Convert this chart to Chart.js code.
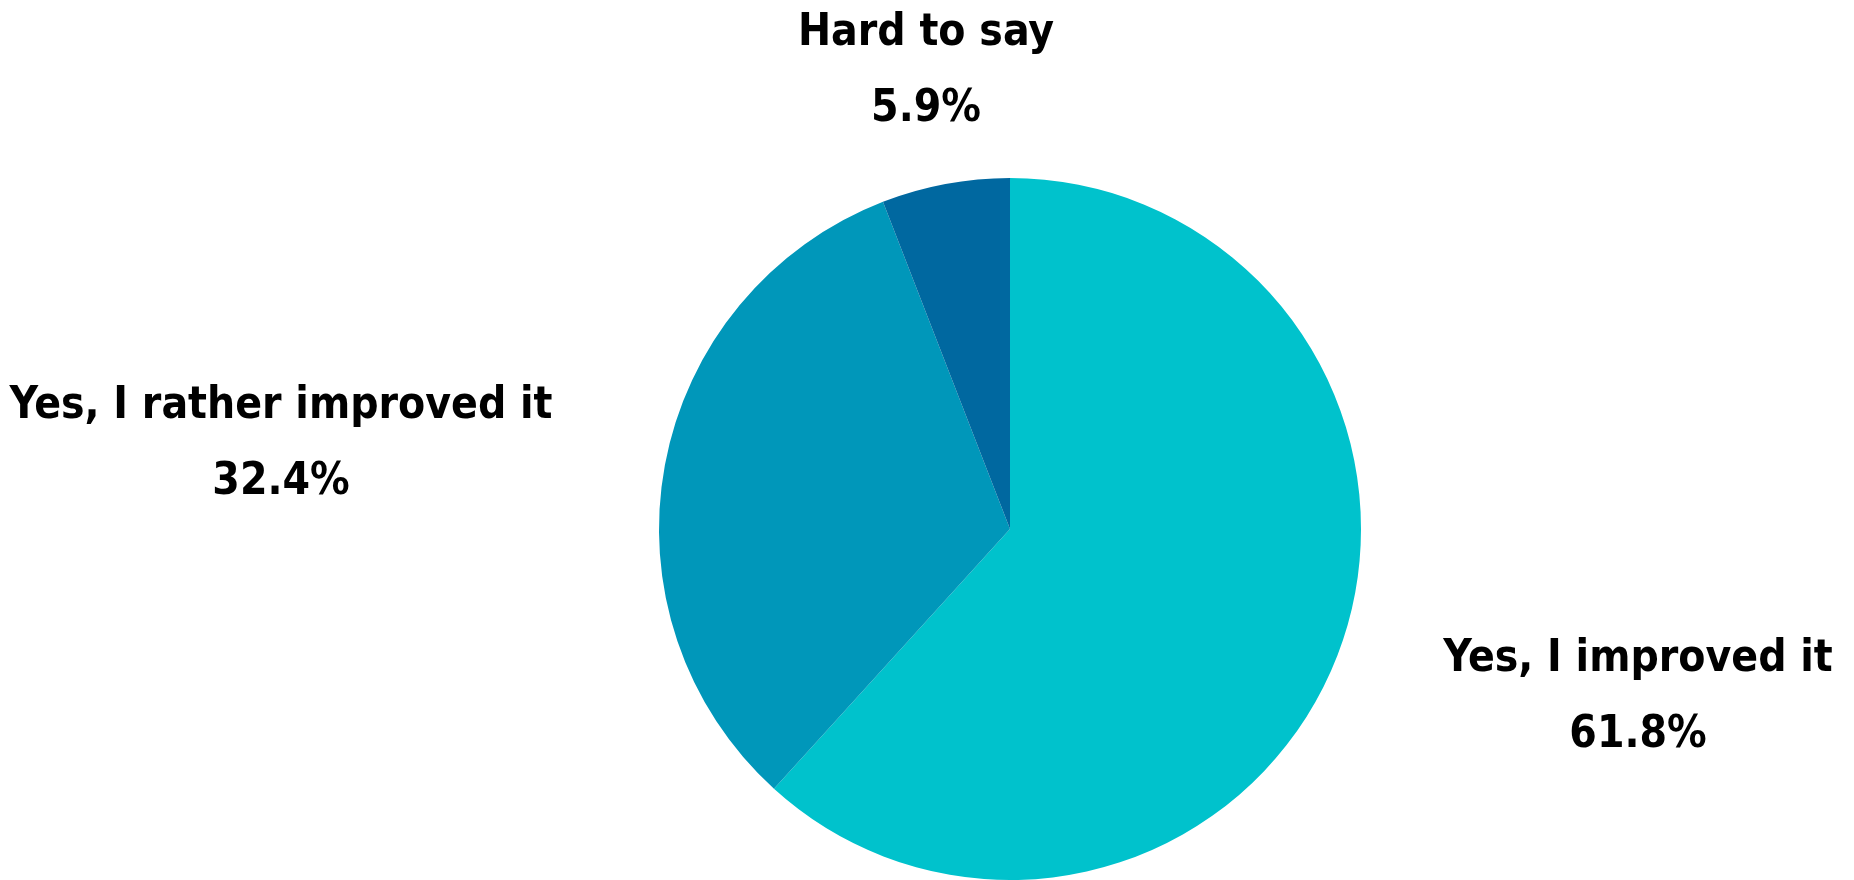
<!DOCTYPE html>
<html>
<head>
<meta charset="utf-8">
<script src="https://cdn.jsdelivr.net/npm/chart.js@4/dist/chart.umd.min.js"></script>
<style>
  html, body { margin: 0; padding: 0; background: #fff; }
  #wrap { width: 1854px; height: 880px; }
</style>
</head>
<body>
<div id="wrap"><canvas id="pie"></canvas></div>
<script>
const categories = ['Yes, I improved it', 'Yes, I rather improved it', 'Hard to say'];
const shares = [61.8, 32.4, 5.9];
const sliceColors = ['#00c2cc', '#0097ba', '#0068a0'];

// label offsets from the pie centre, in px (first line centre)
const labelOffsets = [[628, 131], [-729, -122], [-84, -495]];

const outsideLabels = {
    id: 'outsideLabels',
    afterDraw(chart) {
        const ctx = chart.ctx;
        const arc = chart.getDatasetMeta(0).data[0];
        const cx = arc.x, cy = arc.y;
        ctx.save();
        ctx.fillStyle = '#000';
        ctx.textAlign = 'center';
        ctx.textBaseline = 'middle';
        ctx.font = 'bold 44px "Liberation Sans Narrow", "DejaVu Sans Condensed", sans-serif';
        categories.forEach((name, i) => {
            const x = cx + labelOffsets[i][0];
            const y = cy + labelOffsets[i][1];
            ctx.fillText(name, x, y);
            ctx.fillText(shares[i].toFixed(1) + '%', x, y + 76);
        });
        ctx.restore();
    }
};

var c = new Chart(document.getElementById('pie').getContext('2d'), {
    type: 'pie',
    data: {
        labels: categories,
        datasets: [{
            data: shares,
            backgroundColor: sliceColors,
            borderWidth: 0
        }]
    },
    options: {
        responsive: true,
        maintainAspectRatio: false,
        animation: false,
        layout: { padding: { top: 178, bottom: 0, left: 166, right: 0 } },
        plugins: {
            legend: { display: false },
            tooltip: { enabled: false }
        }
    },
    plugins: [outsideLabels]
});
</script>
</body>
</html>
